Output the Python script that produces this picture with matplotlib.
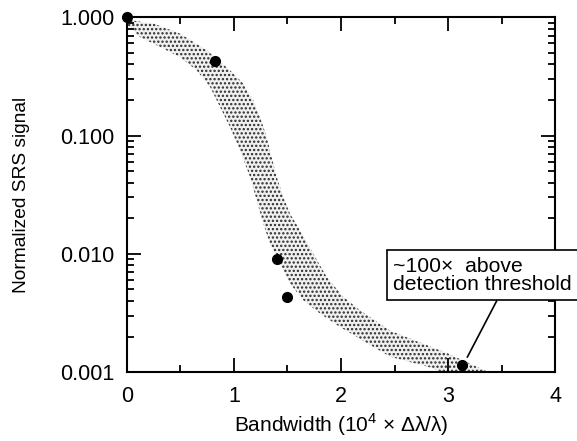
import numpy as np
import matplotlib
matplotlib.use('Agg')
import matplotlib.pyplot as plt
from matplotlib.ticker import FixedLocator, LogLocator, FuncFormatter, MultipleLocator

plt.rcParams['font.family'] = ['Liberation Sans', 'DejaVu Sans']
plt.rcParams['mathtext.fontset'] = 'custom'
plt.rcParams['mathtext.rm'] = 'Liberation Sans'
plt.rcParams['hatch.linewidth'] = 1.1

# measured SRS signal vs bandwidth
bw_points = [0.0, 0.82, 1.40, 1.50, 3.13]
srs_points = [1.0, 0.425, 0.009, 0.0043, 0.00115]

# shaded band edges (upper/right and lower/left)
band_upper_x = [0.0, 0.028, 0.246, 0.495, 0.745, 0.963, 1.087, 1.180, 1.243, 1.306, 1.352,
                1.399, 1.461, 1.523, 1.617, 1.741, 1.866, 2.021, 2.178, 2.46, 2.99, 3.38]
band_upper_y = [1.0, 0.944, 0.885, 0.728, 0.526, 0.356, 0.275, 0.199, 0.1435, 0.0973, 0.0659,
                0.0447, 0.0303, 0.0219, 0.0158, 0.01007, 0.00637, 0.00433, 0.00333, 0.00224, 0.00145, 0.00100]
band_lower_x = [0.0, 0.028, 0.121, 0.308, 0.495, 0.651, 0.776, 0.869, 0.963, 1.056, 1.150,
                1.212, 1.274, 1.336, 1.430, 1.523, 1.648, 1.804, 1.991, 2.46, 2.83, 2.95]
band_lower_y = [0.85, 0.828, 0.681, 0.561, 0.461, 0.356, 0.258, 0.175, 0.118, 0.0752, 0.0447,
                0.0284, 0.0180, 0.0122, 0.00828, 0.00561, 0.00406, 0.00313, 0.00241, 0.00135, 0.0011, 0.00100]

y_ticks = [0.001, 0.01, 0.1, 1.0]
x_ticks = [0, 1, 2, 3, 4]

fig = plt.figure(figsize=(5.77, 4.41), dpi=100)
ax = fig.add_axes([0.220, 0.156, 0.742, 0.805])

poly_x = np.concatenate([band_upper_x, band_lower_x[::-1]])
poly_y = np.concatenate([band_upper_y, band_lower_y[::-1]])
ax.fill(poly_x, poly_y, facecolor='#f0f0f0', edgecolor='#2a2a2a', linewidth=0,
        hatch='....', zorder=1)

ax.plot(bw_points, srs_points, 'o', color='black', markersize=7, clip_on=False, zorder=5)

ax.set_yscale('log')
ax.set_xlim(0, 4)
ax.set_ylim(0.001, 1.0)

ax.xaxis.set_major_locator(FixedLocator(x_ticks))
ax.xaxis.set_minor_locator(MultipleLocator(0.5))
ax.yaxis.set_major_locator(FixedLocator(y_ticks))
ax.yaxis.set_minor_locator(LogLocator(base=10, subs=np.arange(2, 10)))
ax.yaxis.set_major_formatter(FuncFormatter(lambda v, p: '%.3f' % v))
ax.yaxis.set_minor_formatter(FuncFormatter(lambda v, p: ''))

ax.tick_params(which='both', direction='in', top=True, right=True, width=1.3, labelsize=15.5)
ax.tick_params(which='major', length=10)
ax.tick_params(which='minor', length=5)
ax.tick_params(axis='x', which='major', pad=10)
ax.tick_params(axis='y', which='major', pad=9)
for s in ax.spines.values():
    s.set_linewidth(1.5)

ax.set_xlabel('Bandwidth (10$^{4}$ × Δλ/λ)', fontsize=15, labelpad=3)
ax.set_ylabel('Normalized SRS signal', fontsize=13.8, labelpad=22)

ax.annotate('~100×  above\ndetection threshold', xy=(3.18, 0.00134), xytext=(3.322, 0.0066),
            fontsize=15.2, ha='center', va='center', multialignment='left', linespacing=0.95,
            bbox=dict(boxstyle='square,pad=0.3', facecolor='white', edgecolor='black', linewidth=1.2),
            arrowprops=dict(arrowstyle='-', color='black', linewidth=1.2, shrinkA=0, shrinkB=0,
                            relpos=(0.6, 0.0)),
            annotation_clip=False, zorder=10)

fig.savefig('out.png', dpi=100)
